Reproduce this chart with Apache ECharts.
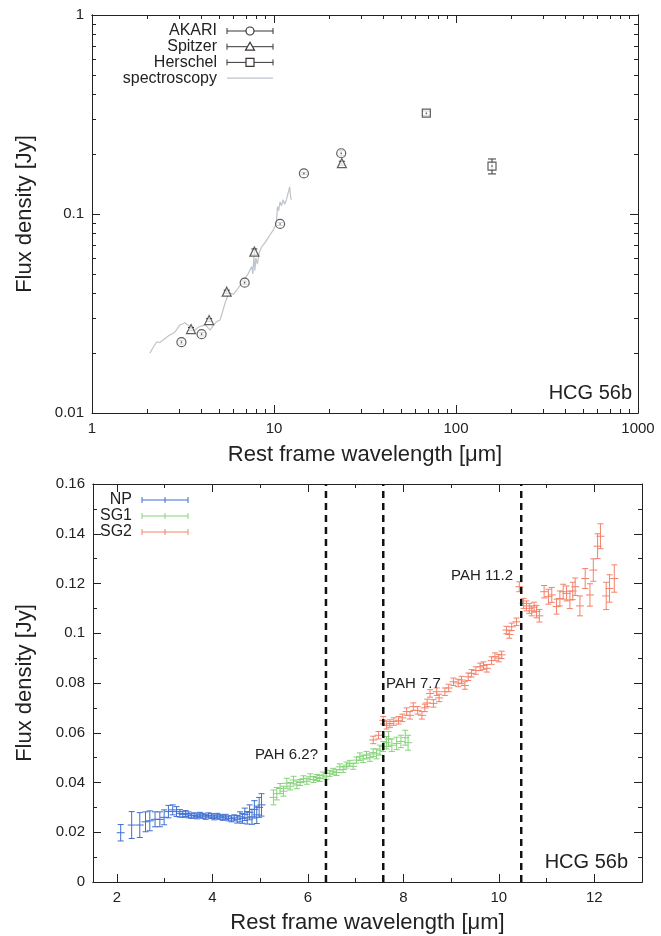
<!DOCTYPE html>
<html><head><meta charset="utf-8">
<script src="https://cdn.jsdelivr.net/npm/echarts@6/dist/echarts.min.js"></script>
<style>html,body{margin:0;padding:0;background:#fff}#c{width:661px;height:936px}</style>
</head><body><div id="c"></div>
<script>
// ---------- Top panel data (log-log) ----------
const akariX = [3.1, 4.0, 6.9, 10.8, 14.6, 23.4];
const akariY = [0.0227, 0.0249, 0.0452, 0.0891, 0.160, 0.202];
const akariE = [0.0005, 0.0005, 0.0008, 0.0015, 0.002, 0.006];
const spitzerX = [3.5, 4.4, 5.5, 7.8, 23.6];
const spitzerY = [0.0264, 0.0293, 0.0407, 0.0647, 0.180];
const spitzerE = [0.0005, 0.0005, 0.0007, 0.002, 0.004];
const herschelX = [68.7, 157.7];
const herschelY = [0.321, 0.174];
const herschelE = [0.008, 0.015];
const specX = [2.08, 2.17, 2.27, 2.36, 2.46, 2.57, 2.68, 2.77, 2.86, 2.95, 3.04, 3.14, 3.24, 3.35, 3.45, 3.56, 3.68, 3.80, 3.92, 4.05, 4.18, 4.31, 4.45, 4.60, 4.74, 4.90, 5.05, 5.20, 5.38, 5.55, 5.73, 5.98, 6.24, 6.55, 6.93, 7.20, 7.54, 7.65, 7.75, 7.85, 7.95, 8.10, 8.30, 8.56, 8.95, 9.50, 9.90, 10.30, 10.45, 10.60, 10.80, 11.00, 11.20, 11.45, 11.70, 11.95, 12.20, 12.35, 12.50];
const specY = [0.0200, 0.0214, 0.0228, 0.0226, 0.0233, 0.0240, 0.0247, 0.0250, 0.0256, 0.0266, 0.0277, 0.0280, 0.0284, 0.0278, 0.0272, 0.0266, 0.0261, 0.0268, 0.0272, 0.0275, 0.0277, 0.0270, 0.0261, 0.0272, 0.0282, 0.0290, 0.0293, 0.0320, 0.0356, 0.0385, 0.0400, 0.0395, 0.0415, 0.0440, 0.0475, 0.0500, 0.0544, 0.0500, 0.0610, 0.0520, 0.0600, 0.0560, 0.0640, 0.0685, 0.0720, 0.0784, 0.0830, 0.0898, 0.1090, 0.1040, 0.1150, 0.1100, 0.1180, 0.1120, 0.1180, 0.1160, 0.1370, 0.1200, 0.1180];

// ---------- Bottom panel data ----------
const npX = [2.08, 2.31, 2.48, 2.60, 2.69, 2.80, 2.90, 2.99, 3.08, 3.17, 3.25, 3.32, 3.38, 3.44, 3.50, 3.56, 3.62, 3.68, 3.74, 3.80, 3.86, 3.92, 3.98, 4.04, 4.10, 4.16, 4.22, 4.28, 4.34, 4.40, 4.46, 4.52, 4.58, 4.63, 4.68, 4.73, 4.78, 4.83, 4.88, 4.93, 4.98, 5.03];
const npY = [0.0198, 0.0229, 0.0229, 0.0242, 0.0246, 0.0252, 0.0252, 0.0260, 0.0283, 0.0290, 0.0283, 0.0276, 0.0272, 0.0275, 0.0270, 0.0266, 0.0268, 0.0264, 0.0270, 0.0266, 0.0262, 0.0268, 0.0265, 0.0260, 0.0266, 0.0262, 0.0258, 0.0262, 0.0256, 0.0254, 0.0258, 0.0252, 0.0262, 0.0256, 0.0272, 0.0258, 0.0280, 0.0262, 0.0292, 0.0270, 0.0300, 0.0310];
const npE = [0.0033, 0.0054, 0.0050, 0.0040, 0.0040, 0.0030, 0.0030, 0.0030, 0.0025, 0.0020, 0.0020, 0.0015, 0.0012, 0.0012, 0.0012, 0.0010, 0.0010, 0.0010, 0.0010, 0.0010, 0.0010, 0.0010, 0.0010, 0.0010, 0.0010, 0.0010, 0.0010, 0.0010, 0.0010, 0.0012, 0.0012, 0.0015, 0.0020, 0.0020, 0.0025, 0.0025, 0.0030, 0.0030, 0.0035, 0.0035, 0.0040, 0.0045];
const sg1X = [5.28, 5.35, 5.42, 5.49, 5.56, 5.63, 5.70, 5.77, 5.84, 5.91, 5.98, 6.05, 6.12, 6.19, 6.25, 6.32, 6.39, 6.46, 6.53, 6.60, 6.67, 6.74, 6.81, 6.88, 6.95, 7.02, 7.09, 7.16, 7.23, 7.30, 7.37, 7.44, 7.51, 7.58, 7.65, 7.69, 7.76, 7.86, 7.95, 8.04, 8.10];
const sg1Y = [0.0340, 0.0355, 0.0376, 0.0365, 0.0397, 0.0385, 0.0410, 0.0390, 0.0400, 0.0415, 0.0405, 0.0423, 0.0412, 0.0420, 0.0416, 0.0430, 0.0425, 0.0437, 0.0445, 0.0440, 0.0463, 0.0452, 0.0470, 0.0477, 0.0465, 0.0490, 0.0504, 0.0495, 0.0510, 0.0500, 0.0520, 0.0515, 0.0530, 0.0545, 0.0560, 0.0575, 0.0550, 0.0557, 0.0565, 0.0580, 0.0560];
const sg1E = [0.0030, 0.0025, 0.0020, 0.0020, 0.0020, 0.0015, 0.0015, 0.0015, 0.0012, 0.0012, 0.0012, 0.0012, 0.0012, 0.0012, 0.0012, 0.0012, 0.0012, 0.0012, 0.0012, 0.0012, 0.0012, 0.0012, 0.0012, 0.0012, 0.0012, 0.0012, 0.0015, 0.0015, 0.0015, 0.0015, 0.0015, 0.0020, 0.0020, 0.0020, 0.0025, 0.0030, 0.0025, 0.0025, 0.0025, 0.0030, 0.0030];
const sg2X = [7.37, 7.48, 7.58, 7.65, 7.72, 7.80, 7.90, 7.98, 8.07, 8.14, 8.21, 8.30, 8.39, 8.45, 8.50, 8.56, 8.63, 8.70, 8.75, 8.87, 8.95, 9.05, 9.15, 9.22, 9.29, 9.36, 9.43, 9.52, 9.61, 9.68, 9.75, 9.85, 9.92, 10.00, 10.06, 10.16, 10.22, 10.27, 10.37, 10.43, 10.52, 10.58, 10.64, 10.69, 10.74, 10.79, 10.85, 10.95, 11.04, 11.11, 11.21, 11.28, 11.35, 11.42, 11.49, 11.55, 11.60, 11.70, 11.81, 11.91, 11.98, 12.07, 12.13, 12.25, 12.32, 12.42];
const sg2Y = [0.0571, 0.0590, 0.0650, 0.0630, 0.0637, 0.0645, 0.0650, 0.0660, 0.0685, 0.0670, 0.0705, 0.0690, 0.0670, 0.0700, 0.0720, 0.0758, 0.0718, 0.0765, 0.0740, 0.0765, 0.0780, 0.0805, 0.0800, 0.0812, 0.0790, 0.0825, 0.0839, 0.0850, 0.0865, 0.0870, 0.0859, 0.0890, 0.0906, 0.0900, 0.0913, 0.1013, 0.0995, 0.1026, 0.1046, 0.1187, 0.1120, 0.1110, 0.1100, 0.1090, 0.1105, 0.1087, 0.1070, 0.1167, 0.1147, 0.1154, 0.1107, 0.1140, 0.1167, 0.1160, 0.1134, 0.1170, 0.1187, 0.1110, 0.1220, 0.1154, 0.1254, 0.1350, 0.1390, 0.1150, 0.1180, 0.1220];
const sg2E = [0.0015, 0.0015, 0.0015, 0.0015, 0.0015, 0.0015, 0.0015, 0.0015, 0.0015, 0.0015, 0.0015, 0.0015, 0.0015, 0.0015, 0.0015, 0.0015, 0.0015, 0.0015, 0.0015, 0.0015, 0.0015, 0.0015, 0.0015, 0.0015, 0.0015, 0.0015, 0.0015, 0.0015, 0.0015, 0.0015, 0.0015, 0.0015, 0.0015, 0.0015, 0.0015, 0.0015, 0.0015, 0.0015, 0.0015, 0.0020, 0.0020, 0.0020, 0.0020, 0.0020, 0.0020, 0.0025, 0.0025, 0.0025, 0.0030, 0.0030, 0.0030, 0.0030, 0.0030, 0.0030, 0.0035, 0.0035, 0.0035, 0.0040, 0.0040, 0.0045, 0.0045, 0.0050, 0.0050, 0.0055, 0.0055, 0.0055];
const pahLines = [6.38, 7.58, 10.47];

// ---------- ticks ----------
const topXMajor = [1, 10, 100, 1000];
const topXLabels = ['1', '10', '100', '1000'];
const topXMinor = [2,3,4,5,6,7,8,9,20,30,40,50,60,70,80,90,200,300,400,500,600,700,800,900];
const topYMajor = [0.01, 0.1, 1];
const topYLabels = ['0.01', '0.1', '1'];
const topYMinor = [0.02,0.03,0.04,0.05,0.06,0.07,0.08,0.09,0.2,0.3,0.4,0.5,0.6,0.7,0.8,0.9];
const botXMajor = [2, 4, 6, 8, 10, 12];
const botXMinor = [3, 5, 7, 9, 11];

const FONT = '"Liberation Sans", Arial, Helvetica, sans-serif';
const INK = '#222';
const C_NP = '#3f6fd0', C_SG1 = '#86d47a', C_SG2 = '#f3826a', C_SPEC = '#bcc4cc', C_PT = '#3a3535';

const zip3 = (a, b, c) => a.map((v, i) => [v, b[i], c ? c[i] : 0]);

function errRender(color, cap, cross) {
  return function (params, api) {
    const x = api.value(0), y = api.value(1), e = api.value(2);
    const p = api.coord([x, y]);
    const lo = api.coord([x, y - e]);
    const hi = api.coord([x, y + e]);
    const st = { stroke: color, lineWidth: 1 };
    const ch = [
      { type: 'line', shape: { x1: p[0], y1: hi[1], x2: p[0], y2: lo[1] }, style: st },
      { type: 'line', shape: { x1: p[0] - cap, y1: hi[1], x2: p[0] + cap, y2: hi[1] }, style: st },
      { type: 'line', shape: { x1: p[0] - cap, y1: lo[1], x2: p[0] + cap, y2: lo[1] }, style: st }
    ];
    if (cross) ch.push({ type: 'line', shape: { x1: p[0] - cross, y1: p[1], x2: p[0] + cross, y2: p[1] }, style: st });
    return { type: 'group', children: ch };
  };
}

function axisBase(extra) {
  return Object.assign({
    axisLine: { show: true, onZero: false, lineStyle: { color: INK, width: 1 } },
    axisTick: { show: true, inside: true, length: 8, lineStyle: { color: INK, width: 1 } },
    axisLabel: { show: false },
    splitLine: { show: false },
    silent: true
  }, extra);
}
function tickAx(extra, vals, len, labels) {
  const a = axisBase(extra);
  a.axisTick = { show: true, inside: true, length: len, customValues: vals, lineStyle: { color: INK, width: 1 } };
  if (labels) a.axisLabel = { show: true, customValues: vals, fontSize: 15, color: INK, fontFamily: FONT, margin: 8,
    formatter: v => { const i = vals.findIndex(t => Math.abs(t - v) < 1e-9 * Math.max(1, Math.abs(t))); return i >= 0 && labels !== true ? labels[i] : String(v); } };
  return a;
}

const xAxis = [
  Object.assign(tickAx({ gridIndex: 0, type: 'log', logBase: 10, min: 1, max: 1000, position: 'bottom' }, topXMajor, 8, topXLabels),
    { name: 'Rest frame wavelength [μm]', nameLocation: 'middle', nameGap: 31, nameTextStyle: { fontSize: 22, color: INK, fontFamily: FONT } }),
  tickAx({ gridIndex: 0, type: 'log', logBase: 10, min: 1, max: 1000, position: 'bottom', axisLine: { show: false } }, topXMinor, 4),
  tickAx({ gridIndex: 0, type: 'log', logBase: 10, min: 1, max: 1000, position: 'top' }, topXMajor, 8),
  tickAx({ gridIndex: 0, type: 'log', logBase: 10, min: 1, max: 1000, position: 'top' }, topXMinor, 4),
  Object.assign(tickAx({ gridIndex: 1, type: 'value', min: 1.5, max: 13, position: 'bottom' }, botXMajor, 8, true),
    { name: 'Rest frame wavelength [μm]', nameLocation: 'middle', nameGap: 30, nameTextStyle: { fontSize: 22, color: INK, fontFamily: FONT } }),
  tickAx({ gridIndex: 1, type: 'value', min: 1.5, max: 13, position: 'bottom' }, botXMinor, 4),
  tickAx({ gridIndex: 1, type: 'value', min: 1.5, max: 13, position: 'top' }, botXMajor, 8),
  tickAx({ gridIndex: 1, type: 'value', min: 1.5, max: 13, position: 'top' }, botXMinor, 4)
];
const yAxis = [
  Object.assign(tickAx({ gridIndex: 0, type: 'log', logBase: 10, min: 0.01, max: 1, position: 'left' }, topYMajor, 8, topYLabels),
    { name: 'Flux density [Jy]', nameLocation: 'middle', nameGap: 56, nameTextStyle: { fontSize: 22, color: INK, fontFamily: FONT } }),
  tickAx({ gridIndex: 0, type: 'log', logBase: 10, min: 0.01, max: 1, position: 'left' }, topYMinor, 4),
  tickAx({ gridIndex: 0, type: 'log', logBase: 10, min: 0.01, max: 1, position: 'right' }, topYMajor, 8),
  tickAx({ gridIndex: 0, type: 'log', logBase: 10, min: 0.01, max: 1, position: 'right' }, topYMinor, 4),
  axisBase({ gridIndex: 1, type: 'value', min: 0, max: 0.16, interval: 0.02, position: 'left',
    axisLabel: { show: true, fontSize: 15, color: INK, fontFamily: FONT, margin: 8 },
    minorTick: { show: true, splitNumber: 2, length: 4, lineStyle: { color: INK } },
    name: 'Flux density [Jy]', nameLocation: 'middle', nameGap: 57, nameTextStyle: { fontSize: 22, color: INK, fontFamily: FONT } }),
  axisBase({ gridIndex: 1, type: 'value', min: 0, max: 0.16, interval: 0.02, position: 'right',
    minorTick: { show: true, splitNumber: 2, length: 4, lineStyle: { color: INK } } })
];

const filled = { color: '#ffffff', borderColor: C_PT, borderWidth: 1.2 };
const series = [
  { type: 'line', xAxisIndex: 0, yAxisIndex: 0, data: specX.map((v, i) => [v, specY[i]]), symbol: 'none',
    lineStyle: { color: C_SPEC, width: 1.2 }, silent: true, z: 1 },
  { type: 'custom', xAxisIndex: 0, yAxisIndex: 0, data: zip3(akariX, akariY, akariE), renderItem: errRender(C_PT, 3, 0), z: 2 },
  { type: 'custom', xAxisIndex: 0, yAxisIndex: 0, data: zip3(spitzerX, spitzerY, spitzerE), renderItem: errRender(C_PT, 3, 0), z: 2 },
  { type: 'custom', xAxisIndex: 0, yAxisIndex: 0, data: zip3(herschelX, herschelY, herschelE), renderItem: errRender(C_PT, 4, 0), z: 2 },
  { type: 'scatter', xAxisIndex: 0, yAxisIndex: 0, data: akariX.map((v, i) => [v, akariY[i]]), symbol: 'circle', symbolSize: 9, itemStyle: filled, z: 3, silent: true },
  { type: 'scatter', xAxisIndex: 0, yAxisIndex: 0, data: spitzerX.map((v, i) => [v, spitzerY[i]]), symbol: 'triangle', symbolSize: 9, itemStyle: filled, z: 3, silent: true },
  { type: 'scatter', xAxisIndex: 0, yAxisIndex: 0, data: herschelX.map((v, i) => [v, herschelY[i]]), symbol: 'rect', symbolSize: 8, itemStyle: filled, z: 3, silent: true },
  { type: 'scatter', xAxisIndex: 0, yAxisIndex: 0, data: akariX.concat(herschelX).map((v, i) => [v, akariY.concat(herschelY)[i]]), symbol: 'circle', symbolSize: 1.6, itemStyle: { color: C_PT }, z: 4, silent: true },
  { type: 'custom', xAxisIndex: 4, yAxisIndex: 4, data: zip3(npX, npY, npE), renderItem: errRender(C_NP, 3, 4), z: 3 },
  { type: 'custom', xAxisIndex: 4, yAxisIndex: 4, data: zip3(sg1X, sg1Y, sg1E), renderItem: errRender(C_SG1, 3, 4), z: 3 },
  { type: 'custom', xAxisIndex: 4, yAxisIndex: 4, data: zip3(sg2X, sg2Y, sg2E), renderItem: errRender(C_SG2, 3, 4), z: 3 }
];
pahLines.forEach(v => series.push({
  type: 'line', xAxisIndex: 4, yAxisIndex: 4, data: [[v, 0], [v, 0.16]], symbol: 'none', silent: true, z: 5,
  lineStyle: { color: '#111', width: 2.5, type: [7, 5] }
}));

// ---------- legends & annotations (graphic) ----------
const txt = (x, y, s, size, align) => ({ type: 'text', x, y, silent: true, z: 10,
  style: { text: s, fill: INK, font: size + 'px ' + FONT, textAlign: align || 'left', textVerticalAlign: 'middle' } });
const ln = (x1, y1, x2, y2, color, w) => ({ type: 'line', silent: true, z: 10, shape: { x1, y1, x2, y2 }, style: { stroke: color, lineWidth: w || 1 } });
const graphic = [];
const topLeg = [['AKARI', 'circle'], ['Spitzer', 'triangle'], ['Herschel', 'rect'], ['spectroscopy', 'line']];
topLeg.forEach((it, i) => {
  const y = 31 + i * 15.7;
  graphic.push(txt(217, y, it[0], 16, 'right'));
  if (it[1] === 'line') { graphic.push(ln(227, y, 273, y, C_SPEC, 1.2)); return; }
  graphic.push(ln(227, y, 273, y, C_PT), ln(227, y - 3, 227, y + 3, C_PT), ln(273, y - 3, 273, y + 3, C_PT));
  const sh = { fill: '#fff', stroke: C_PT, lineWidth: 1.2 };
  if (it[1] === 'circle') graphic.push({ type: 'circle', z: 11, shape: { cx: 250, cy: y, r: 4 }, style: sh });
  if (it[1] === 'triangle') graphic.push({ type: 'polygon', z: 11, shape: { points: [[250, y - 4.5], [254.5, y + 3.5], [245.5, y + 3.5]] }, style: sh });
  if (it[1] === 'rect') graphic.push({ type: 'rect', z: 11, shape: { x: 246, y: y - 4, width: 8, height: 8 }, style: sh });
});
[['NP', C_NP], ['SG1', C_SG1], ['SG2', C_SG2]].forEach((it, i) => {
  const y = 500 + i * 16;
  graphic.push(txt(132, y, it[0], 16, 'right'));
  graphic.push(ln(142, y, 188, y, it[1]), ln(142, y - 3, 142, y + 3, it[1]), ln(188, y - 3, 188, y + 3, it[1]), ln(165, y - 3, 165, y + 3, it[1]));
});
graphic.push(txt(632, 393, 'HCG 56b', 20, 'right'));
graphic.push(txt(628, 862, 'HCG 56b', 20, 'right'));
graphic.push(txt(318, 755, 'PAH 6.2?', 15, 'right'));
graphic.push(txt(386, 684, 'PAH 7.7', 15, 'left'));
graphic.push(txt(513, 576, 'PAH 11.2', 15, 'right'));

const chart = echarts.init(document.getElementById('c'), null, { renderer: 'canvas' });
chart.setOption({
  animation: false,
  backgroundColor: '#fff',
  textStyle: { fontFamily: FONT },
  grid: [
    { left: 92, top: 15, width: 546, height: 398 },
    { left: 93, top: 484, width: 549, height: 398 }
  ],
  xAxis, yAxis, series, graphic
});
</script></body></html>
